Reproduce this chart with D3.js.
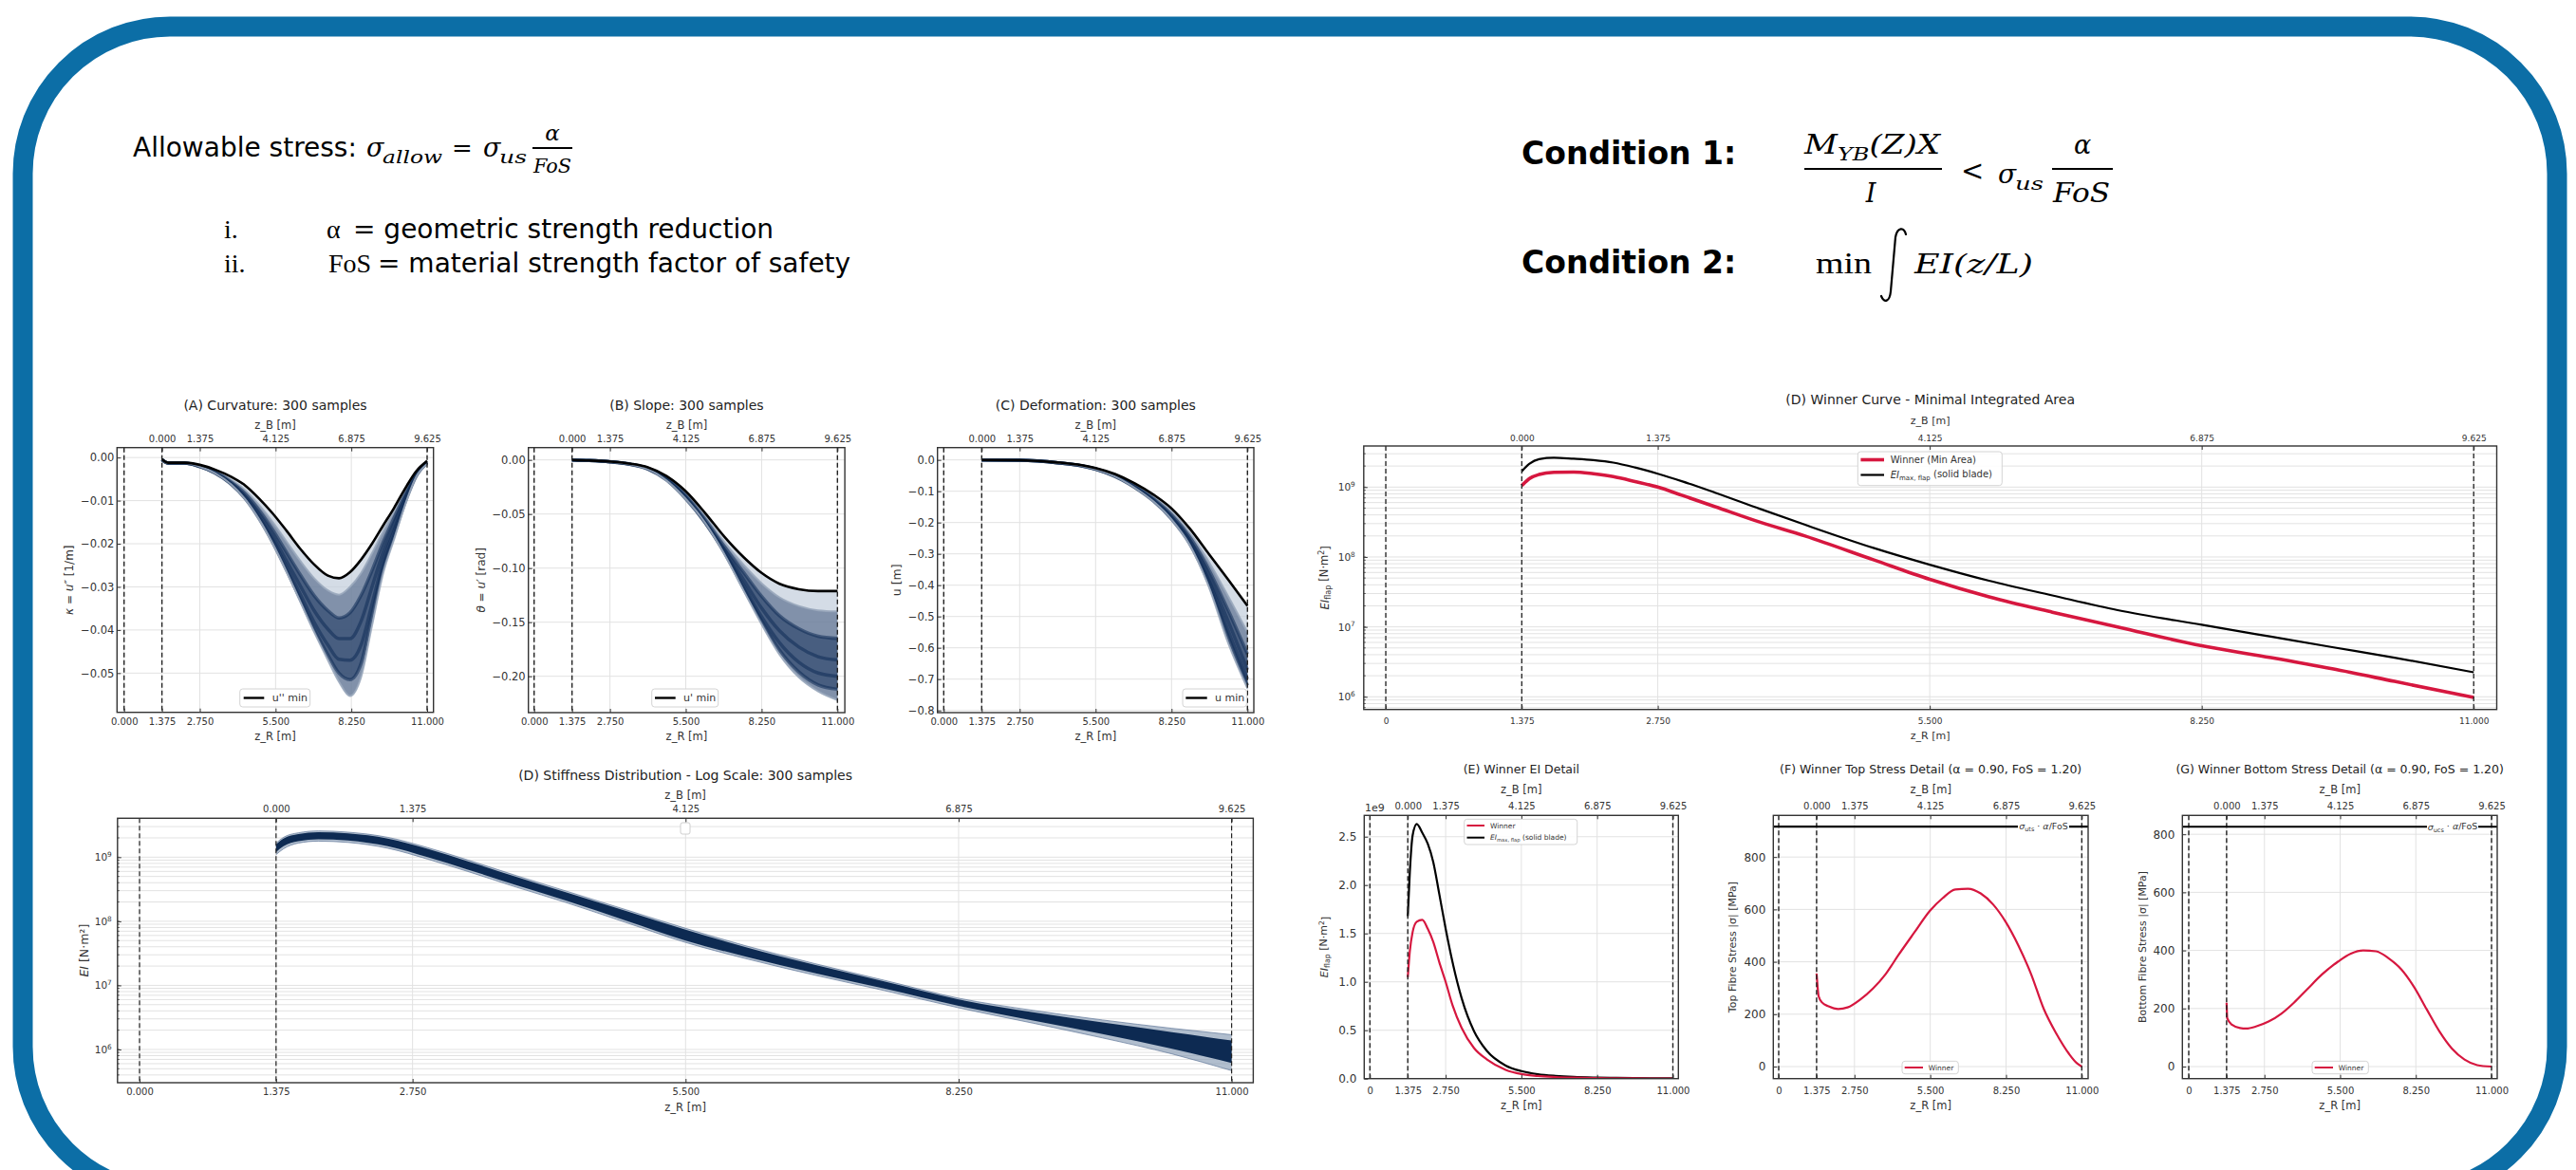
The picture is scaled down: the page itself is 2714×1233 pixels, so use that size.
<!DOCTYPE html>
<html>
<head>
<meta charset="utf-8">
<script src="https://cdn.jsdelivr.net/npm/d3@7"></script>
<style>
  html, body { margin: 0; padding: 0; background: #fff; }
</style>
</head>
<body>
<script>
// ---------------------------------------------------------------------------
// Spanwise coordinates: z_R measured from rotor axis, z_B = z_R - rootOffset
// ---------------------------------------------------------------------------
const rootOffset = 1.375;
const zrTicks = [0, 1.375, 2.75, 5.5, 8.25, 11];
const zbTicksAtZr = [1.375, 2.75, 5.5, 8.25, 11];
const zoneBounds = [0, 1.375, 11];

// (A) curvature u'' [1/m]
const zCurv = [1.375, 1.6, 2.2, 2.75, 3.3, 3.9, 4.4, 4.9, 5.4, 5.9, 6.4, 6.9, 7.4, 7.8, 8.2, 8.6, 9.0, 9.4, 9.8, 10.2, 10.6, 11.0];
const curvMin = [-0.0004, -0.0012, -0.0012, -0.0017, -0.0028, -0.0045, -0.0065, -0.0095, -0.0130, -0.0170, -0.0212, -0.0248, -0.0274, -0.0280, -0.0266, -0.0237, -0.0200, -0.0158, -0.0117, -0.0072, -0.0032, -0.0008];
const curvSamples = [
  [-0.0005, -0.0013, -0.0013, -0.0019, -0.0031, -0.0052, -0.0076, -0.0110, -0.0150, -0.0195, -0.0240, -0.0280, -0.0308, -0.0318, -0.0300, -0.0268, -0.0222, -0.0172, -0.0125, -0.0077, -0.0034, -0.0009],
  [-0.0005, -0.0013, -0.0013, -0.0020, -0.0033, -0.0057, -0.0084, -0.0122, -0.0168, -0.0220, -0.0272, -0.0320, -0.0355, -0.0372, -0.0360, -0.0320, -0.0262, -0.0197, -0.0140, -0.0085, -0.0037, -0.0010],
  [-0.0005, -0.0013, -0.0013, -0.0021, -0.0035, -0.0060, -0.0090, -0.0132, -0.0182, -0.0240, -0.0298, -0.0355, -0.0398, -0.0420, -0.0420, -0.0380, -0.0300, -0.0220, -0.0155, -0.0093, -0.0040, -0.0011],
  [-0.0005, -0.0013, -0.0013, -0.0021, -0.0036, -0.0062, -0.0094, -0.0138, -0.0192, -0.0254, -0.0318, -0.0382, -0.0435, -0.0468, -0.0470, -0.0435, -0.0340, -0.0242, -0.0170, -0.0100, -0.0042, -0.0012],
  [-0.0005, -0.0013, -0.0013, -0.0021, -0.0036, -0.0063, -0.0096, -0.0142, -0.0198, -0.0262, -0.0330, -0.0398, -0.0458, -0.0500, -0.0515, -0.0478, -0.0365, -0.0255, -0.0180, -0.0105, -0.0044, -0.0013],
  [-0.0005, -0.0013, -0.0013, -0.0021, -0.0036, -0.0063, -0.0097, -0.0143, -0.0200, -0.0265, -0.0335, -0.0405, -0.0470, -0.0520, -0.0553, -0.0510, -0.0390, -0.0270, -0.0190, -0.0110, -0.0045, -0.0015]
];
const curvTicks = [0, -0.01, -0.02, -0.03, -0.04, -0.05];

// (B) slope u' [rad]
const zSlope = [1.375, 2.0, 2.75, 3.5, 4.125, 4.8, 5.5, 6.2, 6.9, 7.6, 8.25, 8.9, 9.6, 10.3, 11.0];
const slopeMin = [0, -0.0005, -0.0015, -0.0035, -0.0068, -0.0148, -0.029, -0.049, -0.071, -0.090, -0.1045, -0.1145, -0.1195, -0.1212, -0.1212];
const slopeSamples = [
  [0, -0.0005, -0.0016, -0.0037, -0.0072, -0.0158, -0.031, -0.052, -0.076, -0.097, -0.114, -0.127, -0.135, -0.139, -0.140],
  [0, -0.0005, -0.0016, -0.0038, -0.0076, -0.0166, -0.033, -0.055, -0.080, -0.104, -0.126, -0.144, -0.156, -0.163, -0.165],
  [0, -0.0005, -0.0017, -0.0040, -0.0080, -0.0175, -0.034, -0.057, -0.083, -0.111, -0.137, -0.158, -0.173, -0.182, -0.185],
  [0, -0.0005, -0.0017, -0.0041, -0.0082, -0.0182, -0.035, -0.058, -0.085, -0.116, -0.145, -0.169, -0.187, -0.197, -0.200],
  [0, -0.0005, -0.0017, -0.0042, -0.0084, -0.0186, -0.036, -0.058, -0.086, -0.119, -0.149, -0.176, -0.196, -0.208, -0.212],
  [0, -0.0005, -0.0017, -0.0042, -0.0085, -0.0190, -0.036, -0.058, -0.087, -0.121, -0.152, -0.180, -0.201, -0.214, -0.222]
];
const slopeTicks = [0, -0.05, -0.10, -0.15, -0.20];

// (C) deflection u [m]
const zDefl = [1.375, 2.75, 4.125, 5.0, 5.5, 6.2, 6.9, 7.6, 8.25, 8.9, 9.6, 10.3, 11.0];
const deflMin = [0, -0.001, -0.008, -0.017, -0.026, -0.045, -0.074, -0.111, -0.155, -0.218, -0.300, -0.382, -0.466];
const deflSamples = [
  [0, -0.001, -0.008, -0.018, -0.027, -0.048, -0.078, -0.118, -0.165, -0.232, -0.325, -0.435, -0.550],
  [0, -0.001, -0.009, -0.018, -0.028, -0.050, -0.082, -0.124, -0.175, -0.245, -0.350, -0.480, -0.620],
  [0, -0.001, -0.009, -0.019, -0.029, -0.051, -0.085, -0.128, -0.182, -0.255, -0.370, -0.515, -0.670],
  [0, -0.001, -0.009, -0.019, -0.029, -0.052, -0.086, -0.130, -0.186, -0.262, -0.385, -0.545, -0.700],
  [0, -0.001, -0.009, -0.019, -0.030, -0.053, -0.087, -0.132, -0.189, -0.267, -0.395, -0.565, -0.720],
  [0, -0.001, -0.009, -0.019, -0.030, -0.053, -0.088, -0.133, -0.190, -0.270, -0.405, -0.585, -0.730]
];
const deflTicks = [0, -0.1, -0.2, -0.3, -0.4, -0.5, -0.6, -0.7, -0.8];

// (D) stiffness band of the 300 samples, log10(EI) [N·m²]
const zStiff = [1.375, 1.45, 1.6, 1.8, 2.1, 2.5, 2.9, 3.3, 3.8, 4.3, 4.9, 5.5, 6.1, 6.8, 7.5, 8.25, 9.0, 9.7, 10.4, 11.0];
const stiffUpperLog = [9.22, 9.31, 9.38, 9.41, 9.39, 9.31, 9.15, 8.96, 8.71, 8.47, 8.18, 7.89, 7.62, 7.34, 7.08, 6.80, 6.61, 6.46, 6.33, 6.23];
const stiffUpperInnerLog = [9.20, 9.29, 9.36, 9.39, 9.37, 9.29, 9.13, 8.94, 8.69, 8.45, 8.16, 7.87, 7.60, 7.32, 7.06, 6.78, 6.58, 6.42, 6.27, 6.14];
const stiffLowerInnerLog = [9.08, 9.17, 9.25, 9.28, 9.26, 9.17, 9.00, 8.81, 8.56, 8.32, 8.01, 7.70, 7.45, 7.19, 6.95, 6.68, 6.45, 6.24, 6.01, 5.79];
const stiffLowerLog = [9.04, 9.13, 9.22, 9.25, 9.23, 9.14, 8.97, 8.78, 8.53, 8.29, 7.98, 7.67, 7.42, 7.16, 6.92, 6.65, 6.41, 6.18, 5.93, 5.67];
const logTicks = [1e6, 1e7, 1e8, 1e9];

// Winner design vs. solid-blade maximum, log10(EI_flap) [N·m²]
const zWin = [1.375, 1.45, 1.55, 1.7, 1.9, 2.1, 2.3, 2.52, 2.75, 3.0, 3.33, 3.78, 4.24, 4.93, 5.5, 6.1, 6.74, 7.4, 8.25, 8.95, 9.57, 10.2, 11.0];
const winnerLog = [9.02, 9.12, 9.18, 9.21, 9.215, 9.19, 9.15, 9.08, 9.00, 8.88, 8.72, 8.50, 8.30, 7.96, 7.68, 7.43, 7.21, 7.00, 6.73, 6.56, 6.40, 6.22, 5.99];
const eiMaxLog = [9.225, 9.33, 9.40, 9.42, 9.405, 9.385, 9.35, 9.28, 9.19, 9.08, 8.92, 8.69, 8.46, 8.13, 7.89, 7.66, 7.45, 7.24, 7.03, 6.86, 6.71, 6.56, 6.35];
const eiTicks = [0, 0.5e9, 1.0e9, 1.5e9, 2.0e9, 2.5e9];

// (F) top-fibre stress of the winner [MPa]
const zTop = [1.375, 1.40, 1.45, 1.58, 1.81, 2.16, 2.50, 2.96, 3.42, 3.88, 4.34, 4.91, 5.49, 5.95, 6.41, 6.87, 7.33, 7.78, 8.24, 8.70, 9.16, 9.62, 10.08, 10.54, 10.83, 11.0];
const topStress = [355, 320, 268, 244, 230, 220, 226, 256, 298, 353, 425, 510, 595, 643, 676, 679, 661, 619, 552, 462, 353, 220, 125, 48, 12, 0];
const topAllow = 916;

// (G) bottom-fibre stress of the winner [MPa]
const zBot = [1.375, 1.40, 1.57, 1.86, 2.09, 2.44, 2.90, 3.36, 3.82, 4.28, 4.85, 5.43, 5.89, 6.34, 6.80, 7.26, 7.72, 8.18, 8.64, 9.10, 9.56, 10.02, 10.48, 11.0];
const botStress = [220, 166, 144, 133, 131, 138, 155, 182, 220, 264, 318, 362, 389, 400, 397, 373, 335, 275, 198, 122, 62, 24, 5, 0];
const botAllow = 826;
const stressTicks = [0, 200, 400, 600, 800];

// ---------------------------------------------------------------------------
const W = 2714, H = 1233;
const SANS = "'DejaVu Sans', Verdana, sans-serif";
const SERIF = "'Liberation Serif', 'Times New Roman', serif";
const MATH = "'DejaVu Serif', 'Liberation Serif', serif";
const RED = '#d6173f';
const NAVY = '#0f2c56';

const svg = d3.select('body').append('svg').attr('width', W).attr('height', H).attr('font-family', SANS);
const defs = svg.append('defs');
svg.append('rect').attr('width', W).attr('height', H).attr('fill', '#fff');
svg.append('rect').attr('x', 24).attr('y', 28).attr('width', 2670).attr('height', 1230)
  .attr('rx', 155).attr('fill', 'none').attr('stroke', '#0c6ea6').attr('stroke-width', 21);

// ------------------------------- header text -------------------------------
const hdr = svg.append('g').attr('fill', '#000');
function T(x, y, s, o = {}) {
  const t = hdr.append('text').attr('x', x).attr('y', y).text(s);
  for (const k in o) t.attr(k, o[k]);
  return t;
}
const it = (fs, extra = {}) => Object.assign({ 'font-family': MATH, 'font-style': 'italic', 'font-size': fs }, extra);
const fit = (w) => ({ textLength: w, lengthAdjust: 'spacingAndGlyphs' });

T(140, 165, 'Allowable stress:', { 'font-family': SANS, 'font-size': 28 });
T(386, 165, 'σ', it(27));
T(403, 172, 'allow', it(19, fit(63)));
T(476, 165, '=', { 'font-family': MATH, 'font-size': 26 });
T(509, 165, 'σ', it(27));
T(526, 172, 'us', it(19, fit(29)));
T(582, 148, 'α', it(23, { 'text-anchor': 'middle' }));
hdr.append('line').attr('x1', 561).attr('x2', 603).attr('y1', 156).attr('y2', 156).attr('stroke', '#000').attr('stroke-width', 1.8);
T(582, 182, 'FoS', it(21, Object.assign({ 'text-anchor': 'middle' }, fit(40))));

T(236, 251, 'i.', { 'font-family': SERIF, 'font-size': 28 });
T(344, 251, 'α', { 'font-family': SERIF, 'font-size': 28 });
T(372, 251, '= geometric strength reduction', { 'font-family': SANS, 'font-size': 28 });
T(236, 287, 'ii.', { 'font-family': SERIF, 'font-size': 28 });
T(346, 287, 'FoS', { 'font-family': SERIF, 'font-size': 28 });
T(398, 287, '= material strength factor of safety', { 'font-family': SANS, 'font-size': 28 });

T(1603, 173, 'Condition 1:', { 'font-family': SANS, 'font-size': 33, 'font-weight': 'bold' });
T(1603, 288, 'Condition 2:', { 'font-family': SANS, 'font-size': 33, 'font-weight': 'bold' });

const num = hdr.append('text').attr('x', 1901).attr('y', 162).attr('font-family', MATH).attr('font-style', 'italic')
  .attr('textLength', 143).attr('lengthAdjust', 'spacingAndGlyphs');
num.append('tspan').attr('font-size', 27).text('M');
num.append('tspan').attr('font-size', 19).attr('dy', 7).text('YB');
num.append('tspan').attr('font-size', 27).attr('dy', -7).text('(Z)X');
hdr.append('line').attr('x1', 1901).attr('x2', 2046).attr('y1', 178).attr('y2', 178).attr('stroke', '#000').attr('stroke-width', 2);
T(1971, 213, 'I', it(27, { 'text-anchor': 'middle' }));
T(2066, 190, '<', { 'font-family': MATH, 'font-size': 29 });
T(2105, 193, 'σ', it(28));
T(2123, 200, 'us', it(19, fit(30)));
T(2194, 162, 'α', it(27, { 'text-anchor': 'middle' }));
hdr.append('line').attr('x1', 2162).attr('x2', 2226).attr('y1', 178).attr('y2', 178).attr('stroke', '#000').attr('stroke-width', 2);
T(2193, 213, 'FoS', it(27, Object.assign({ 'text-anchor': 'middle' }, fit(60))));

T(1913, 288, 'min', { 'font-family': SERIF, 'font-size': 32, textLength: 59, lengthAdjust: 'spacingAndGlyphs' });
hdr.append('path')
  .attr('d', 'M2008,247 C2006,239 1999,239 1997,250 L1992,307 C1991,318 1985,320 1982,312')
  .attr('fill', 'none').attr('stroke', '#000').attr('stroke-width', 2.2).attr('stroke-linecap', 'round');
T(2017, 288, 'EI(z/L)', it(28, fit(125)));

// ------------------------------- plot helper -------------------------------
function panel(o) {
  const g = svg.append('g');
  const x = d3.scaleLinear().domain(o.xDom).range([o.L, o.R]);
  const y = (o.log ? d3.scaleLog() : d3.scaleLinear()).domain(o.yDom).range([o.B, o.T]);
  const cid = 'clip-' + o.id;
  defs.append('clipPath').attr('id', cid).append('rect')
    .attr('x', o.L).attr('y', o.T).attr('width', o.R - o.L).attr('height', o.B - o.T);

  // grid
  const grid = g.append('g').attr('stroke', '#e2e2e2').attr('stroke-width', 1);
  zrTicks.forEach(v => grid.append('line').attr('x1', x(v)).attr('x2', x(v)).attr('y1', o.T).attr('y2', o.B));
  o.yGrid.forEach(v => grid.append('line').attr('x1', o.L).attr('x2', o.R).attr('y1', y(v)).attr('y2', y(v)));

  // data
  const plot = g.append('g').attr('clip-path', `url(#${cid})`);
  o.draw(plot, x, y);

  // root / tip markers
  zoneBounds.forEach(v => g.append('line').attr('x1', x(v)).attr('x2', x(v)).attr('y1', o.T).attr('y2', o.B)
    .attr('stroke', '#222').attr('stroke-width', o.dashW || 1.4).attr('stroke-dasharray', '5,3'));
  if (o.over) o.over(g, x, y);

  // axes (ticks pointing inward)
  const ab = g.append('g').attr('transform', `translate(0,${o.B})`)
    .call(d3.axisBottom(x).tickValues(zrTicks).tickFormat(o.xFmt).tickSizeInner(-4).tickSizeOuter(0).tickPadding(o.bPad));
  const at = g.append('g').attr('transform', `translate(0,${o.T})`)
    .call(d3.axisTop(x).tickValues(zbTicksAtZr).tickFormat(d => (d - rootOffset).toFixed(3)).tickSizeInner(-4).tickSizeOuter(0).tickPadding(o.tPad));
  const al = g.append('g').attr('transform', `translate(${o.L},0)`)
    .call(d3.axisLeft(y).tickValues(o.yTicks).tickFormat(o.yFmt || (d => d)).tickSizeInner(-4).tickSizeOuter(0).tickPadding(o.lPad));
  [ab, at, al].forEach(a => {
    a.select('.domain').remove();
    a.selectAll('line').attr('stroke', '#333');
    a.selectAll('text').attr('fill', '#333').attr('font-family', SANS);
  });
  ab.selectAll('text').attr('font-size', o.xFs);
  at.selectAll('text').attr('font-size', o.xFs);
  al.selectAll('text').attr('font-size', o.yFs);
  if (o.log) {
    al.selectAll('.tick text').each(function (d) {
      const t = d3.select(this);
      t.text(null);
      t.append('tspan').text('10');
      t.append('tspan').attr('dy', '-0.55em').attr('font-size', o.yFs * 0.7).text(Math.round(Math.log10(d)));
    });
    // minor ticks
    o.yGrid.forEach(v => g.append('line').attr('x1', o.L).attr('x2', o.L + 2).attr('y1', y(v)).attr('y2', y(v)).attr('stroke', '#555'));
  }

  // frame
  g.append('rect').attr('x', o.L).attr('y', o.T).attr('width', o.R - o.L).attr('height', o.B - o.T)
    .attr('fill', 'none').attr('stroke', '#333').attr('stroke-width', 1.4);

  const cx = (o.L + o.R) / 2;
  g.append('text').attr('x', cx).attr('y', o.titleY).attr('text-anchor', 'middle')
    .attr('font-size', o.titleFs).attr('fill', '#222').text(o.title);
  g.append('text').attr('x', cx).attr('y', o.zbY).attr('text-anchor', 'middle')
    .attr('font-size', o.labFs).attr('fill', '#333').text('z_B [m]');
  g.append('text').attr('x', cx).attr('y', o.zrY).attr('text-anchor', 'middle')
    .attr('font-size', o.labFs).attr('fill', '#333').text('z_R [m]');
  const yl = g.append('text').attr('transform', `translate(${o.yLabX},${(o.T + o.B) / 2}) rotate(-90)`)
    .attr('text-anchor', 'middle').attr('font-size', o.yLabFs || o.labFs).attr('fill', '#333');
  o.yLabel(yl);
  if (o.legend) o.legend(g);
  return { g, x, y };
}

function legendBox(g, x0, y0, w, h, items, fs) {
  g.append('rect').attr('x', x0).attr('y', y0).attr('width', w).attr('height', h).attr('rx', 3)
    .attr('fill', '#fff').attr('fill-opacity', 0.85).attr('stroke', '#d4d4d4');
  items.forEach(d => {
    g.append('line').attr('x1', d.x1).attr('x2', d.x2).attr('y1', d.y).attr('y2', d.y)
      .attr('stroke', d.color).attr('stroke-width', d.w);
    const t = g.append('text').attr('x', d.tx).attr('y', d.y).attr('dy', '0.35em')
      .attr('font-size', fs).attr('fill', '#333');
    d.label(t);
  });
}

function eiMaxLabel(t, fs) {
  t.append('tspan').attr('font-style', 'italic').text('EI');
  t.append('tspan').attr('font-size', fs * 0.7).attr('dy', '0.3em').text('max, flap');
  t.append('tspan').attr('dy', '-0.3em').text(' (solid blade)');
}
function eiFlapLabel(t, fs) {
  t.append('tspan').attr('font-style', 'italic').text('EI');
  t.append('tspan').attr('font-size', fs * 0.72).attr('dy', '0.3em').text('flap');
  t.append('tspan').attr('dy', '-0.3em').text(' [N·m');
  t.append('tspan').attr('font-size', fs * 0.7).attr('dy', '-0.45em').text('2');
  t.append('tspan').attr('dy', '0.45em').text(']');
}

// band of sample curves + envelope curve
function drawBand(p, x, y, z, minCurve, samples) {
  const line = d3.line().curve(d3.curveMonotoneX).x((d, i) => x(z[i])).y(d => y(d));
  const area = (a, b) => d3.area().curve(d3.curveMonotoneX)
    .x((d, i) => x(z[i])).y0((d, i) => y(a[i])).y1((d, i) => y(b[i]))(z);
  p.append('path').attr('d', area(minCurve, samples[5])).attr('fill', '#c6d0dd').attr('opacity', 0.75);
  p.append('path').attr('d', area(samples[0], samples[5])).attr('fill', '#3d5479').attr('opacity', 0.55);
  p.append('path').attr('d', area(samples[1], samples[4])).attr('fill', NAVY).attr('opacity', 0.5);
  samples.forEach((s, i) => {
    const edge = (i === 0 || i === samples.length - 1);
    p.append('path').attr('d', line(s)).attr('fill', 'none')
      .attr('stroke', edge ? '#9aa8bc' : NAVY).attr('stroke-width', edge ? 2 : 3.5)
      .attr('opacity', edge ? 0.9 : 0.55).attr('stroke-linejoin', 'round');
  });
  p.append('path').attr('d', line(minCurve)).attr('fill', 'none').attr('stroke', '#000').attr('stroke-width', 2.6);
}

const fmt3 = d => d.toFixed(3);
const fmt3z = d => (d === 0 ? '0' : d.toFixed(3));
const smallCommon = { xFs: 10, yFs: 11.5, titleFs: 14, labFs: 11.5, tPad: 6, bPad: 6, lPad: 3, titleY: 432, zbY: 452, zrY: 780 };

// (A)
panel(Object.assign({}, smallCommon, {
  id: 'a', L: 123.3, R: 456.7, T: 471.7, B: 750.7, xDom: [-0.255, 11.231], yDom: [-0.0591, 0.0023],
  yTicks: curvTicks, yGrid: curvTicks, yFmt: d3.format('.2f'), xFmt: fmt3,
  title: '(A) Curvature: 300 samples', yLabX: 77, yLabFs: 12,
  draw: (p, x, y) => drawBand(p, x, y, zCurv, curvMin, curvSamples),
  yLabel: t => {
    t.append('tspan').attr('font-style', 'italic').text('κ');
    t.append('tspan').text(' = ');
    t.append('tspan').attr('font-style', 'italic').text('u″');
    t.append('tspan').text(' [1/m]');
  },
  legend: g => legendBox(g, 252.7, 726, 74, 19, [{ x1: 256.7, x2: 278.3, y: 735.5, color: '#000', w: 2.4, tx: 286.7, label: t => t.text('u\'\' min') }], 11)
}));

// (B)
panel(Object.assign({}, smallCommon, {
  id: 'b', L: 556.7, R: 890.1, T: 471.7, B: 751, xDom: [-0.207, 11.268], yDom: [-0.2336, 0.0114],
  yTicks: slopeTicks, yGrid: slopeTicks, yFmt: d3.format('.2f'), xFmt: fmt3,
  title: '(B) Slope: 300 samples', yLabX: 511, yLabFs: 12,
  draw: (p, x, y) => drawBand(p, x, y, zSlope, slopeMin, slopeSamples),
  yLabel: t => {
    t.append('tspan').attr('font-style', 'italic').text('θ');
    t.append('tspan').text(' = ');
    t.append('tspan').attr('font-style', 'italic').text('u′');
    t.append('tspan').text(' [rad]');
  },
  legend: g => legendBox(g, 686.7, 726, 70, 19, [{ x1: 690, x2: 711.7, y: 735.5, color: '#000', w: 2.4, tx: 720, label: t => t.text('u\' min') }], 11)
}));

// (C)
panel(Object.assign({}, smallCommon, {
  id: 'c', L: 987.7, R: 1321, T: 471.7, B: 751, xDom: [-0.227, 11.23], yDom: [-0.807, 0.0394],
  yTicks: deflTicks, yGrid: deflTicks, yFmt: d3.format('.1f'), xFmt: fmt3,
  title: '(C) Deformation: 300 samples', yLabX: 949, yLabFs: 12.5,
  draw: (p, x, y) => drawBand(p, x, y, zDefl, deflMin, deflSamples),
  yLabel: t => t.text('u [m]'),
  legend: g => legendBox(g, 1246, 726, 67.3, 19, [{ x1: 1249.3, x2: 1271.7, y: 735.5, color: '#000', w: 2.4, tx: 1280, label: t => t.text('u min') }], 11)
}));

// minor log grid values
function logGrid(lo, hi) {
  const out = [];
  for (let e = 5; e <= 9; e++) for (let k = 1; k <= 9; k++) { const v = k * Math.pow(10, e); if (v > lo && v < hi) out.push(v); }
  return out;
}

// (D) stiffness distribution
const stiffDom = [3.03e5, 4.05e9];
panel({
  id: 'd', L: 123.8, R: 1320.4, T: 862.3, B: 1141, xDom: [-0.222, 11.218], yDom: stiffDom, log: true,
  yTicks: logTicks, yGrid: logGrid(stiffDom[0], stiffDom[1]), xFmt: fmt3,
  xFs: 10, yFs: 10.5, titleFs: 14, labFs: 11.5, tPad: 6, bPad: 5.5, lPad: 6,
  titleY: 822, zbY: 842, zrY: 1171, yLabX: 93, yLabFs: 12.5, dashW: 1.2,
  title: '(D) Stiffness Distribution - Log Scale: 300 samples',
  draw: (p, x, y) => {
    const area = (a, b) => d3.area().curve(d3.curveMonotoneX)
      .x((d, i) => x(zStiff[i])).y0((d, i) => y(Math.pow(10, a[i]))).y1((d, i) => y(Math.pow(10, b[i])))(zStiff);
    const line = d3.line().curve(d3.curveMonotoneX).x((d, i) => x(zStiff[i])).y(d => y(Math.pow(10, d)));
    p.append('path').attr('d', area(stiffLowerLog, stiffUpperLog)).attr('fill', '#7d92ae').attr('opacity', 0.6);
    p.append('path').attr('d', area(stiffLowerInnerLog, stiffUpperInnerLog)).attr('fill', '#0d2a52');
    [stiffLowerLog, stiffUpperLog].forEach(s => p.append('path').attr('d', line(s)).attr('fill', 'none')
      .attr('stroke', '#5f7698').attr('stroke-width', 1).attr('opacity', 0.7));
  },
  over: g => g.append('rect').attr('x', 717).attr('y', 867).attr('width', 10).attr('height', 12).attr('rx', 2)
    .attr('fill', '#fff').attr('stroke', '#cfcfcf'),
  yLabel: t => {
    t.append('tspan').attr('font-style', 'italic').text('EI');
    t.append('tspan').text(' [N·m²]');
  }
});

// (D) winner curve
const winDom = [6.58e5, 3.87e9];
panel({
  id: 'w', L: 1436.8, R: 2630.5, T: 470, B: 747.7, xDom: [-0.223, 11.233], yDom: winDom, log: true,
  yTicks: logTicks, yGrid: logGrid(winDom[0], winDom[1]), xFmt: fmt3z,
  xFs: 9, yFs: 10.5, titleFs: 14, labFs: 11, tPad: 5.5, bPad: 9, lPad: 9,
  titleY: 426, zbY: 447, zrY: 779, yLabX: 1400, yLabFs: 11.5, dashW: 1.3,
  title: '(D) Winner Curve - Minimal Integrated Area',
  draw: (p, x, y) => {
    const line = d3.line().curve(d3.curveMonotoneX).x((d, i) => x(zWin[i])).y(d => y(Math.pow(10, d)));
    p.append('path').attr('d', line(eiMaxLog)).attr('fill', 'none').attr('stroke', '#000').attr('stroke-width', 2.2);
    p.append('path').attr('d', line(winnerLog)).attr('fill', 'none').attr('stroke', RED).attr('stroke-width', 3.6);
  },
  yLabel: t => eiFlapLabel(t, 11.5),
  legend: g => legendBox(g, 1957.3, 476, 152, 35.7, [
    { x1: 1960.4, x2: 1985, y: 484.5, color: RED, w: 3.6, tx: 1991.7, label: t => t.text('Winner (Min Area)') },
    { x1: 1960.4, x2: 1985, y: 500.5, color: '#000', w: 2.2, tx: 1991.7, label: t => eiMaxLabel(t, 10) }
  ], 10)
});

const detailCommon = { xFs: 10, yFs: 12, titleFs: 12.5, labFs: 11.5, tPad: 6, bPad: 9, lPad: 8, titleY: 814.5, zbY: 836, zrY: 1169, T: 859.3, B: 1136.7, xFmt: fmt3z };

// (E) winner EI detail (linear)
panel(Object.assign({}, detailCommon, {
  id: 'e', L: 1437.3, R: 1768.3, xDom: [-0.207, 11.2], yDom: [0, 2.72e9],
  yTicks: eiTicks, yGrid: eiTicks, yFmt: d => (d / 1e9).toFixed(1), yLabX: 1399, yLabFs: 11,
  title: '(E) Winner EI Detail',
  draw: (p, x, y) => {
    const line = d3.line().curve(d3.curveMonotoneX).x((d, i) => x(zWin[i])).y(d => y(Math.pow(10, d)));
    p.append('path').attr('d', line(eiMaxLog)).attr('fill', 'none').attr('stroke', '#000').attr('stroke-width', 2.2);
    p.append('path').attr('d', line(winnerLog)).attr('fill', 'none').attr('stroke', RED).attr('stroke-width', 2.2);
  },
  over: g => g.append('text').attr('x', 1438).attr('y', 855).attr('font-size', 11).attr('fill', '#333').text('1e9'),
  yLabel: t => eiFlapLabel(t, 11),
  legend: g => legendBox(g, 1542.7, 863.3, 119, 26.7, [
    { x1: 1545.5, x2: 1564, y: 870, color: RED, w: 2, tx: 1570, label: t => t.text('Winner') },
    { x1: 1545.5, x2: 1564, y: 882.7, color: '#000', w: 2, tx: 1570, label: t => eiMaxLabel(t, 7.5) }
  ], 7.5)
}));

function stressPanel(id, L, R, xDom, yDom, z, vals, allow, title, labelText, sub, labX, legX) {
  panel(Object.assign({}, detailCommon, {
    id, L, R, xDom, yDom, yTicks: stressTicks, yGrid: stressTicks, yFmt: d => d, yLabX: labX, yLabFs: 11,
    title,
    draw: (p, x, y) => {
      const line = d3.line().curve(d3.curveMonotoneX).x((d, i) => x(z[i])).y(d => y(d));
      p.append('path').attr('d', line(vals)).attr('fill', 'none').attr('stroke', RED).attr('stroke-width', 2.2);
    },
    over: (g, x, y) => {
      g.append('line').attr('x1', L).attr('x2', R).attr('y1', y(allow)).attr('y2', y(allow))
        .attr('stroke', '#000').attr('stroke-width', 2.2);
      const lx = R - 47;
      g.append('rect').attr('x', lx - 27).attr('y', y(allow) - 6).attr('width', 54).attr('height', 12).attr('fill', '#fff');
      const t = g.append('text').attr('x', lx).attr('y', y(allow)).attr('dy', '0.35em').attr('text-anchor', 'middle')
        .attr('font-size', 9.5).attr('fill', '#333');
      t.append('tspan').attr('font-style', 'italic').text('σ');
      t.append('tspan').attr('font-size', 6.5).attr('dy', '0.3em').text(sub);
      t.append('tspan').attr('dy', '-0.3em').text(' · ');
      t.append('tspan').attr('font-style', 'italic').text('α');
      t.append('tspan').text('/FoS');
    },
    yLabel: t => t.text(labelText),
    legend: g => legendBox(g, legX, 1118.3, 59.3, 13.4, [
      { x1: legX + 2.7, x2: legX + 22, y: 1125, color: RED, w: 2, tx: legX + 27.7, label: t => t.text('Winner') }
    ], 7.5)
  }));
}

stressPanel('f', 1868.3, 2200, [-0.196, 11.23], [-46, 959], zTop, topStress, topAllow,
  '(F) Winner Top Stress Detail (α = 0.90, FoS = 1.20)', 'Top Fibre Stress |σ| [MPa]', 'uts', 1829, 2004);
stressPanel('g', 2299.3, 2631, [-0.231, 11.207], [-41.5, 865], zBot, botStress, botAllow,
  '(G) Winner Bottom Stress Detail (α = 0.90, FoS = 1.20)', 'Bottom Fibre Stress |σ| [MPa]', 'ucs', 2261, 2436);
</script>
</body>
</html>
